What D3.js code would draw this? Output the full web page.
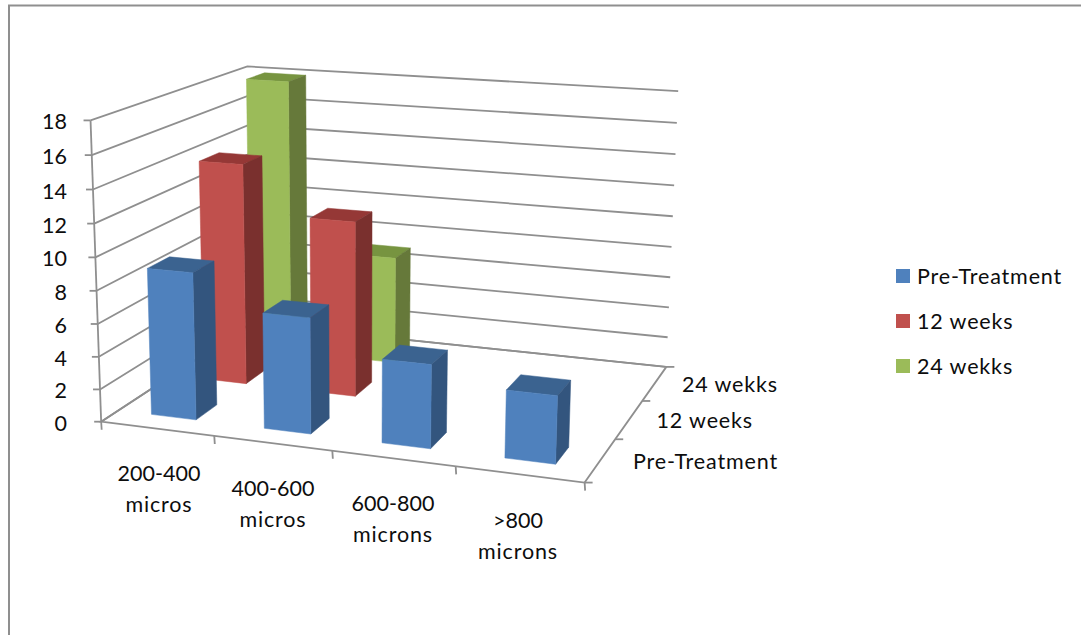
<!DOCTYPE html>
<html>
<head>
<meta charset="utf-8">
<script src="https://cdn.jsdelivr.net/npm/d3@7/dist/d3.min.js"></script>
<style>
  html, body { margin: 0; padding: 0; background: #fff; }
  svg { display: block; }
  text { font-family: Lato, "Open Sans", sans-serif; font-size: 21.5px; fill: #0d0d0d; }
  text.word { letter-spacing: 0.85px; }
</style>
</head>
<body>
<div id="chart"></div>
<script>
// Chart content
const categories = ["200-400 micros", "400-600 micros", "600-800 microns", ">800 microns"];
const seriesNames = ["Pre-Treatment", "12 weeks", "24 wekks"];
const preTreatment = [9, 7, 5, 4];
const weeks12 = [14, 11, 0, 0];
const weeks24 = [18, 7, 0, 0];
const valueTicks = [0, 2, 4, 6, 8, 10, 12, 14, 16, 18];

// Face shades per series: front, side, top
const shades = [
  { front: "#4f81bd", side: "#33557e", top: "#3b6390" },
  { front: "#c0504d", side: "#7a302e", top: "#953836" },
  { front: "#9bbb59", side: "#66793a", top: "#779440" }
];

const W = 1081, H = 635;
const svg = d3.select("#chart").append("svg").attr("width", W).attr("height", H);

// Camera calibration: world corners of the plot box (x, depth, height, each 0..1)
// paired with where they sit on the page; the projective camera is fitted to these.
const cameraAnchors = [
  [0, 0, 0, 102, 421], [0, 0, 1, 90, 120],
  [0, 1, 0, 250, 325], [0, 1, 1, 248, 66],
  [1, 1, 0, 666, 365], [1, 1, 1, 678, 92],
  [1, 0, 0, 583, 484],
  [0.25, 0, 0, 215, 436], [0.5, 0, 0, 332, 450], [0.75, 0, 0, 455, 467],
  [1, 1 / 3, 0, 617, 439], [1, 2 / 3, 0, 643, 401]
];

function solveCamera(anchors) {
  const rows = [];
  anchors.forEach(([X, Y, Z, px, py]) => {
    const sx = px / 1000, sy = py / 1000;
    rows.push([X, Y, Z, 1, 0, 0, 0, 0, -sx * X, -sx * Y, -sx * Z, sx]);
    rows.push([0, 0, 0, 0, X, Y, Z, 1, -sy * X, -sy * Y, -sy * Z, sy]);
  });
  // Least squares through the normal equations
  const n = 11;
  const A = d3.range(n).map(i => d3.range(n + 1).map(j =>
    d3.sum(rows, r => r[i] * r[j])));
  for (let c = 0; c < n; c++) {
    let pivot = c;
    for (let r = c + 1; r < n; r++) if (Math.abs(A[r][c]) > Math.abs(A[pivot][c])) pivot = r;
    [A[c], A[pivot]] = [A[pivot], A[c]];
    for (let r = 0; r < n; r++) {
      if (r === c) continue;
      const f = A[r][c] / A[c][c];
      for (let k = c; k <= n; k++) A[r][k] -= f * A[c][k];
    }
  }
  return d3.range(n).map(i => A[i][n] / A[i][i]);
}

const cam = solveCamera(cameraAnchors);

// World scales: 150% gaps between bars on both floor axes
const xBand = d3.scaleBand().domain(categories).range([0, 1]).paddingInner(0.6).paddingOuter(0.3);
const depthBand = d3.scaleBand().domain(seriesNames).range([0, 1]).paddingInner(0.6).paddingOuter(0.3);
const zScale = d3.scaleLinear().domain([0, 18]).range([0, 1]);

function project(x, y, z) {
  const w = cam[8] * x + cam[9] * y + cam[10] * z + 1;
  return [
    1000 * (cam[0] * x + cam[1] * y + cam[2] * z + cam[3]) / w,
    1000 * (cam[4] * x + cam[5] * y + cam[6] * z + cam[7]) / w
  ];
}

const path = d3.line();
const polygon = pts => path(pts) + "Z";
const GRID = "#8f8f8f";

// Outer chart frame, open on the right and at the bottom
svg.append("path")
  .attr("d", `M9,${H}V5.5H${W}`)
  .attr("fill", "none").attr("stroke", GRID).attr("stroke-width", 2);

// Wall gridlines and floor outline
const frame = svg.append("g").attr("fill", "none").attr("stroke", GRID).attr("stroke-width", 1.8);
valueTicks.forEach(v => {
  const z = zScale(v);
  frame.append("path").attr("d", path([project(0, 0, z), project(0, 1, z), project(1, 1, z)]));
});
frame.append("path").attr("d", polygon([project(0, 0, 0), project(1, 0, 0), project(1, 1, 0), project(0, 1, 0)]));
frame.append("path").attr("d", path([project(0, 0, 0), project(0, 0, 1)]));

// Tick marks on all three axes
const tick = (p, dx, dy) => frame.append("line")
  .attr("x1", p[0]).attr("y1", p[1]).attr("x2", p[0] + dx).attr("y2", p[1] + dy);
valueTicks.forEach(v => tick(project(0, 0, zScale(v)), -7, 0));
d3.range(categories.length + 1).forEach(i => tick(project(i / categories.length, 0, 0), 0.5, 8));
d3.range(seriesNames.length + 1).forEach(i => tick(project(1, i / seriesNames.length, 0), 8, 0));

// Bars, drawn from the back row forward
const allSeries = [preTreatment, weeks12, weeks24];
d3.range(seriesNames.length).reverse().forEach(s => {
  const color = shades[s];
  const y0 = depthBand(seriesNames[s]), y1 = y0 + depthBand.bandwidth();
  categories.forEach((cat, c) => {
    const value = allSeries[s][c];
    if (!value) return;
    const x0 = xBand(cat), x1 = x0 + xBand.bandwidth(), z = zScale(value);
    const bar = svg.append("g").attr("stroke-width", 0.5);
    const face = (pts, fill) => bar.append("path").attr("d", polygon(pts)).attr("fill", fill).attr("stroke", fill);
    face([project(x0, y1, z), project(x1, y1, z), project(x1, y0, z), project(x0, y0, z)], color.top);
    face([project(x1, y0, 0), project(x1, y1, 0), project(x1, y1, z), project(x1, y0, z)], color.side);
    face([project(x0, y0, 0), project(x1, y0, 0), project(x1, y0, z), project(x0, y0, z)], color.front);
  });
});

// Value axis labels
valueTicks.forEach(v => {
  svg.append("text").attr("x", 67).attr("y", project(0, 0, zScale(v))[1] + 1)
    .attr("text-anchor", "end").attr("dominant-baseline", "central").text(v);
});

// Category labels, wrapped onto two lines below the front axis
const categoryLabelCentres = [[159, 473], [273, 488], [393, 503], [518, 520]];
categories.forEach((cat, i) => {
  const [line1, line2] = cat.split(" ");
  const [cx, cy] = categoryLabelCentres[i];
  [line1, line2].forEach((t, j) => {
    svg.append("text").attr("class", j ? "word" : null)
      .attr("x", cx).attr("y", cy + j * 30.5)
      .attr("text-anchor", "middle").attr("dominant-baseline", "central").text(t);
  });
});

// Depth axis labels
const seriesLabelAnchors = [[778, 461], [753, 420], [778, 384]];
seriesNames.forEach((name, i) => {
  svg.append("text").attr("class", "word")
    .attr("x", seriesLabelAnchors[i][0]).attr("y", seriesLabelAnchors[i][1])
    .attr("text-anchor", "end").attr("dominant-baseline", "central").text(name);
});

// Legend
const legendRows = d3.scalePoint().domain(seriesNames).range([276, 366]);
seriesNames.forEach((name, i) => {
  const y = legendRows(name);
  svg.append("rect").attr("x", 896).attr("y", y - 7).attr("width", 14).attr("height", 14)
    .attr("fill", shades[i].front);
  svg.append("text").attr("class", "word").attr("x", 917).attr("y", y)
    .attr("dominant-baseline", "central").text(name);
});
</script>
</body>
</html>
